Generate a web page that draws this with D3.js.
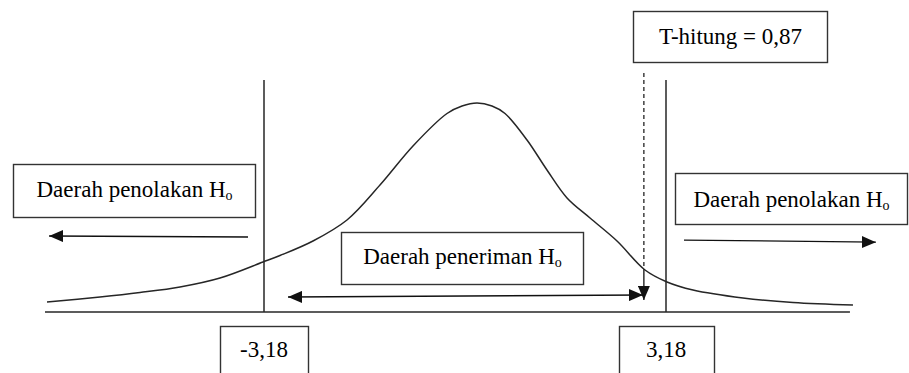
<!DOCTYPE html>
<html>
<head>
<meta charset="utf-8">
<script src="https://cdn.jsdelivr.net/npm/d3@7"></script>
</head>
<body style="margin:0">
<svg id="chart" width="909" height="373"></svg>
<script>
// ---- data (t units, relative density) ----
const curveT = [-6.613, -5.774, -5.142, -4.509, -3.876, -3.196, -2.927, -2.405, -1.867, -1.345, -0.823, -0.285, -0.047, 0.190, 0.427, 0.633, 0.981, 1.297, 1.614, 1.978, 2.405, 2.848, 3.196, 3.607, 4.398, 5.189, 6.138];
const curveH = [0.0192, 0.0288, 0.0374, 0.0480, 0.0652, 0.0959, 0.1084, 0.1362, 0.1765, 0.2436, 0.3185, 0.3808, 0.3952, 0.4010, 0.3952, 0.3808, 0.3300, 0.2724, 0.2187, 0.1803, 0.1362, 0.0806, 0.0576, 0.0422, 0.0269, 0.0182, 0.0134];
const criticalValues = [-3.18, 3.18];
const criticalLabels = ["-3,18", "3,18"];
const tHitungLabel = "T-hitung = 0,87";
const tHitungDrawn = 2.83;          // where the marker is drawn in the figure
const regionLabels = ["Daerah penolakan", "Daerah peneriman", "Daerah penolakan"];
const hypothesis = "H";
const hypothesisSub = "o";

// ---- scales ----
const x = d3.scaleLinear().domain([-3.18, 3.18]).range([264, 666]);
const y = d3.scaleLinear().domain([0, 0.4]).range([312, 103.5]);

const svg = d3.select("#chart");
const ink = "#262626";

const defs = svg.append("defs");
defs.append("marker")
  .attr("id", "arrow")
  .attr("viewBox", "0 0 14 12")
  .attr("refX", 14).attr("refY", 6)
  .attr("markerWidth", 14).attr("markerHeight", 12)
  .attr("markerUnits", "userSpaceOnUse")
  .attr("orient", "auto-start-reverse")
  .append("path").attr("d", "M0,0 L14,6 L0,12 Z").attr("fill", "#111");

// baseline
svg.append("line")
  .attr("x1", x(-6.645)).attr("x2", x(6.09))
  .attr("y1", y(0)).attr("y2", y(0))
  .attr("stroke", ink).attr("stroke-width", 1.5);

// critical value verticals
svg.selectAll("line.crit").data(criticalValues).enter().append("line")
  .attr("class", "crit")
  .attr("x1", d => x(d)).attr("x2", d => x(d))
  .attr("y1", y(0.445)).attr("y2", y(0))
  .attr("stroke", ink).attr("stroke-width", 1.5);

// curve
const pts = curveT.map((t, i) => [t, curveH[i]]);
svg.append("path")
  .datum(pts)
  .attr("d", d3.line().x(d => x(d[0])).y(d => y(d[1])).curve(d3.curveCatmullRom.alpha(0.5)))
  .attr("fill", "none").attr("stroke", ink).attr("stroke-width", 1.5);

// T-hitung marker: dashed above the curve, solid below, arrow down
const hAtMarker = 0.081;
svg.append("line")
  .attr("x1", x(tHitungDrawn)).attr("x2", x(tHitungDrawn))
  .attr("y1", y(0.4585)).attr("y2", y(hAtMarker))
  .attr("stroke", "#111").attr("stroke-width", 1.2)
  .attr("stroke-dasharray", "4,3");
svg.append("line")
  .attr("x1", x(tHitungDrawn)).attr("x2", x(tHitungDrawn))
  .attr("y1", y(hAtMarker)).attr("y2", y(0.023))
  .attr("stroke", "#111").attr("stroke-width", 1.3)
  .attr("marker-end", "url(#arrow)");

// double arrow (acceptance region)
svg.append("line")
  .attr("x1", x(-2.80)).attr("y1", y(0.0288))
  .attr("x2", x(2.816)).attr("y2", y(0.0326))
  .attr("stroke", "#111").attr("stroke-width", 1.3)
  .attr("marker-start", "url(#arrow)").attr("marker-end", "url(#arrow)");

// rejection arrows
svg.append("line")
  .attr("x1", x(-3.433)).attr("y1", y(0.1439))
  .attr("x2", x(-6.58)).attr("y2", y(0.1458))
  .attr("stroke", "#111").attr("stroke-width", 1.3)
  .attr("marker-end", "url(#arrow)");
svg.append("line")
  .attr("x1", x(3.465)).attr("y1", y(0.138))
  .attr("x2", x(6.50)).attr("y2", y(0.134))
  .attr("stroke", "#111").attr("stroke-width", 1.3)
  .attr("marker-end", "url(#arrow)");

// ---- boxes ----
function box(x0, y0, w, h) {
  svg.append("rect").attr("x", x0).attr("y", y0).attr("width", w).attr("height", h)
    .attr("fill", "#fff").attr("stroke", "#333").attr("stroke-width", 1.4);
}
function centerText(t, cx) {
  const w = t.node().getComputedTextLength();
  t.attr("x", cx - w / 2);
}
function txt(baseline) {
  return svg.append("text").attr("x", 0).attr("y", baseline)
    .style("font-family", "Liberation Serif")
    .style("font-size", "23px");
}
function hLabel(cx, baseline, label) {
  const t = txt(baseline);
  t.append("tspan").text(label + " " + hypothesis);
  t.append("tspan").text(hypothesisSub).attr("dy", 3).style("font-size", "14px");
  centerText(t, cx);
}

// rejection left
box(13.5, 164.5, 242, 53);
hLabel(134.5, 197, regionLabels[0]);
// acceptance middle
box(341.5, 232.5, 242, 52);
hLabel(462.5, 263.5, regionLabels[1]);
// rejection right
box(675.5, 173.5, 232, 51);
hLabel(791.5, 207, regionLabels[2]);

// T-hitung box
box(633.5, 11.5, 194, 51);
centerText(txt(43.5).text(tHitungLabel), 730.5);

// critical value boxes
const critW = [88, 95];
criticalValues.forEach((v, i) => {
  const cx = x(v);
  box(Math.round(cx - critW[i] / 2) + 0.5, 326.5, critW[i], 60);
  centerText(txt(357).text(criticalLabels[i]), cx);
});
</script>
</body>
</html>
